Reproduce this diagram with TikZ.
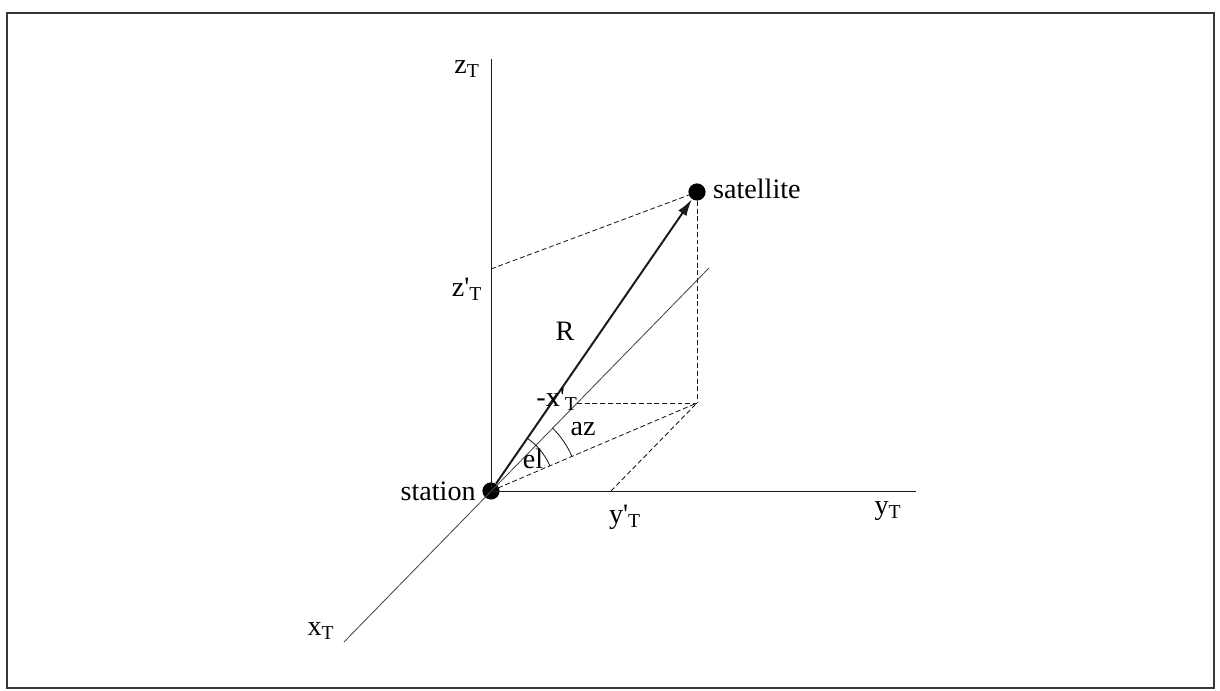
\documentclass[tikz,border=0pt]{standalone}
\usepackage{fontspec}
\setmainfont{Liberation Serif}
\usetikzlibrary{calc,arrows.meta}
\usetikzlibrary{positioning}
\definecolor{sk-line}{HTML}{1A1A1A}
\definecolor{sk-frame}{HTML}{383838}
\newcommand{\tprime}{\textquotesingle}
\tikzset{
  axis/.style={sk-line, line width=0.6pt},
  proj/.style={sk-line, line width=0.6pt, dash pattern=on 3.5pt off 2pt},
  dot/.style={circle, fill=black, inner sep=0pt, minimum size=0.43cm},
  lbl/.style={font=\fontsize{20}{24}\selectfont, inner sep=1pt},
}
\begin{document}
\begin{tikzpicture}[>=latex]
        \useasboundingbox (-12.275,-5.0) rectangle (18.225,12.275);
        \draw[sk-frame, line width=2pt] (-12.1,-4.925) rectangle (18.075,11.95);
        % axis ends and projection points
        \coordinate (o) at (0,0);
        \coordinate (zend) at (0,10.8);
        \coordinate (yend) at (10.625,0);
        \coordinate (xlow) at (-3.675,-3.775);
        \coordinate (xhigh) at (5.45,5.575);
        \coordinate (zp) at (0,5.55);
        \coordinate (xp) at (2.15,2.2);
        \coordinate (yp) at (3.0,0);
        \coordinate (foot) at (5.15,2.2);
        \node[dot] (station) at (o) {};
        \node[dot] (satellite) at (5.15,7.475) {};
        % axes
        \draw[axis] (o) -- (zend);
        \draw[axis] (o) -- (yend);
        \draw[axis, sk-line!80] (xlow) -- (xhigh);
        % projections
        \draw[proj] (zp) -- (satellite);
        \draw[proj] (satellite) -- (foot);
        \draw[proj] (xp) -- (foot);
        \draw[proj] (yp) -- (foot);
        \draw[proj] (o) -- (foot);
        % range vector
        \draw[-{Latex[length=12pt,width=7pt]}, sk-line, line width=1.4pt] (station) -- (satellite);
        % angles
        \draw[axis] (o) ++(55.4:1.6) arc[start angle=55.4, end angle=23.1, radius=1.6];
        \draw[axis] (o) ++(45.6:2.2) arc[start angle=45.6, end angle=23.1, radius=2.2];
        % labels
        \node[lbl, left=0.12cm of station] (lstation) {station};
        \node[lbl, right=0.14cm of satellite, yshift=2pt] (lsat) {satellite};
        \node[lbl] (lz) at (-0.6,10.55) {z\textsubscript{T}};
        \node[lbl] (lzp) at (-0.6,5.05) {z\tprime\textsubscript{T}};
        \node[lbl] (ly) at (9.925,-0.5) {y\textsubscript{T}};
        \node[lbl] (lyp) at (3.35,-0.65) {y\tprime\textsubscript{T}};
        \node[lbl] (lx) at (-4.25,-3.5) {x\textsubscript{T}};
        \node[lbl] (lxp) at (1.65,2.3) {-x\tprime\textsubscript{T}};
        \node[lbl] (lR) at (1.85,4.0) {R};
        \node[lbl] (laz) at (2.3,1.55) {az};
        \node[lbl] (lel) at (1.05,0.8) {el};
    \end{tikzpicture}
\end{document}
